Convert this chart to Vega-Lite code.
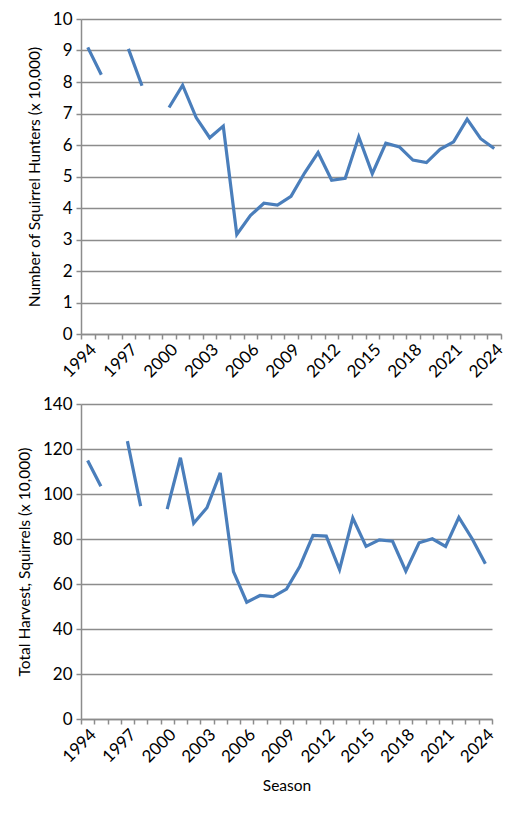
{
  "$schema": "https://vega.github.io/schema/vega-lite/v6.json",
  "background": "white",
  "padding": {"left": 17, "top": 10, "right": 22, "bottom": 8},
  "data": {
    "values": [
      {"Year": 1994, "Hunters": 9.10, "Harvest": 114.9},
      {"Year": 1995, "Hunters": 8.23, "Harvest": 103.4},
      {"Year": 1996, "Hunters": null, "Harvest": null},
      {"Year": 1997, "Hunters": 9.05, "Harvest": 123.5},
      {"Year": 1998, "Hunters": 7.88, "Harvest": 94.6},
      {"Year": 1999, "Hunters": null, "Harvest": null},
      {"Year": 2000, "Hunters": 7.19, "Harvest": 93.3},
      {"Year": 2001, "Hunters": 7.90, "Harvest": 116.1},
      {"Year": 2002, "Hunters": 6.87, "Harvest": 87.0},
      {"Year": 2003, "Hunters": 6.23, "Harvest": 93.9},
      {"Year": 2004, "Hunters": 6.60, "Harvest": 109.4},
      {"Year": 2005, "Hunters": 3.16, "Harvest": 65.5},
      {"Year": 2006, "Hunters": 3.76, "Harvest": 51.9},
      {"Year": 2007, "Hunters": 4.15, "Harvest": 54.9},
      {"Year": 2008, "Hunters": 4.09, "Harvest": 54.4},
      {"Year": 2009, "Hunters": 4.37, "Harvest": 57.7},
      {"Year": 2010, "Hunters": 5.11, "Harvest": 67.8},
      {"Year": 2011, "Hunters": 5.76, "Harvest": 81.6},
      {"Year": 2012, "Hunters": 4.88, "Harvest": 81.3},
      {"Year": 2013, "Hunters": 4.94, "Harvest": 66.4},
      {"Year": 2014, "Hunters": 6.26, "Harvest": 89.3},
      {"Year": 2015, "Hunters": 5.09, "Harvest": 76.7},
      {"Year": 2016, "Hunters": 6.06, "Harvest": 79.6},
      {"Year": 2017, "Hunters": 5.94, "Harvest": 79.0},
      {"Year": 2018, "Hunters": 5.52, "Harvest": 65.7},
      {"Year": 2019, "Hunters": 5.44, "Harvest": 78.3},
      {"Year": 2020, "Hunters": 5.86, "Harvest": 80.1},
      {"Year": 2021, "Hunters": 6.10, "Harvest": 76.7},
      {"Year": 2022, "Hunters": 6.82, "Harvest": 89.6},
      {"Year": 2023, "Hunters": 6.20, "Harvest": 80.1},
      {"Year": 2024, "Hunters": 5.89, "Harvest": 69.0}
    ]
  },
  "align": "none",
  "spacing": 14,
  "vconcat": [
    {
      "width": 420,
      "height": 315,
      "mark": {"type": "line", "color": "#4a7ebb", "strokeWidth": 3.2, "invalid": "break-paths-show-domains"},
      "encoding": {
        "x": {
          "field": "Year",
          "type": "ordinal",
          "bandPosition": 0.5,
          "scale": {
            "type": "band",
            "paddingInner": 0,
            "paddingOuter": 0,
            "domain": [1994, 1995, 1996, 1997, 1998, 1999, 2000, 2001, 2002, 2003, 2004, 2005, 2006, 2007, 2008, 2009, 2010, 2011, 2012, 2013, 2014, 2015, 2016, 2017, 2018, 2019, 2020, 2021, 2022, 2023, 2024]
          },
          "axis": {
            "title": null,
            "labelExpr": "(datum.value - 1994) % 3 === 0 ? datum.label : ''"
          }
        },
        "y": {
          "field": "Hunters",
          "type": "quantitative",
          "scale": {"domain": [0, 10]},
          "axis": {
            "title": "Number of Squirrel Hunters (x 10,000)",
            "values": [0, 1, 2, 3, 4, 5, 6, 7, 8, 9, 10]
          }
        }
      }
    },
    {
      "width": 411,
      "height": 315,
      "mark": {"type": "line", "color": "#4a7ebb", "strokeWidth": 3.2, "invalid": "break-paths-show-domains"},
      "encoding": {
        "x": {
          "field": "Year",
          "type": "ordinal",
          "bandPosition": 0.5,
          "scale": {
            "type": "band",
            "paddingInner": 0,
            "paddingOuter": 0,
            "domain": [1994, 1995, 1996, 1997, 1998, 1999, 2000, 2001, 2002, 2003, 2004, 2005, 2006, 2007, 2008, 2009, 2010, 2011, 2012, 2013, 2014, 2015, 2016, 2017, 2018, 2019, 2020, 2021, 2022, 2023, 2024]
          },
          "axis": {
            "title": "Season",
            "titlePadding": 13,
            "labelExpr": "(datum.value - 1994) % 3 === 0 ? datum.label : ''"
          }
        },
        "y": {
          "field": "Harvest",
          "type": "quantitative",
          "scale": {"domain": [0, 140]},
          "axis": {
            "title": "Total Harvest, Squirrels (x 10,000)",
            "values": [0, 20, 40, 60, 80, 100, 120, 140]
          }
        }
      }
    }
  ],
  "config": {
    "view": {"stroke": null},
    "font": "Lato",
    "axis": {
      "labelFont": "Lato",
      "labelFontSize": 17,
      "labelColor": "#000000",
      "titleFont": "Lato",
      "titleFontSize": 15.5,
      "titleFontWeight": "normal",
      "titleColor": "#000000",
      "domainColor": "#8c8c8c",
      "domainWidth": 1.5,
      "tickColor": "#8c8c8c",
      "tickWidth": 1.5,
      "tickSize": 5,
      "gridColor": "#8c8c8c",
      "gridWidth": 1.5
    },
    "axisX": {
      "grid": false,
      "tickBand": "extent",
      "labelAngle": -45,
      "labelAlign": "right",
      "labelBaseline": "top",
      "labelPadding": 2,
      "titlePadding": 8
    },
    "axisY": {
      "grid": true,
      "labelPadding": 4,
      "titlePadding": 10
    }
  }
}
